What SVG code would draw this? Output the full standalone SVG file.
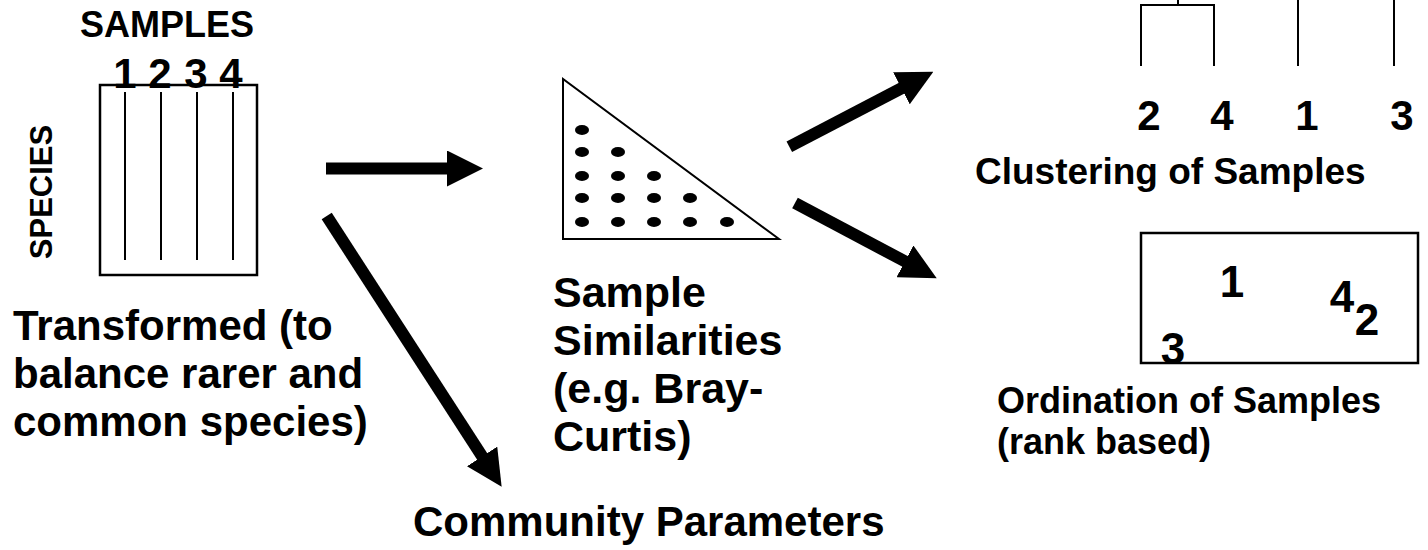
<svg xmlns="http://www.w3.org/2000/svg" width="1428" height="550" viewBox="0 0 1428 550">
<style>
text{font-family:"Liberation Sans",Arial,sans-serif;font-weight:bold;fill:#000}
.ln{stroke:#000;stroke-width:2;fill:none}
.bx{stroke:#000;stroke-width:2.5;fill:#fff}
.arr{stroke:#000;stroke-width:12;fill:none;marker-end:url(#ah)}
.mid{text-anchor:middle}
</style>
<defs>
<marker id="ah" markerUnits="userSpaceOnUse" markerWidth="36" markerHeight="36" viewBox="0 0 36 36" refX="2" refY="18" orient="auto">
<path d="M0,0 L36,18 L0,36 z" fill="#000"/>
</marker>
</defs>
<rect width="1428" height="550" fill="#fff"/>
<g id="matrix">
<text x="167" y="37" class="mid" font-size="36">SAMPLES</text>
<rect x="100" y="85" width="157" height="190" class="bx"/>
<line x1="125" y1="92" x2="125" y2="260" class="ln"/>
<line x1="161" y1="92" x2="161" y2="260" class="ln"/>
<line x1="197" y1="92" x2="197" y2="260" class="ln"/>
<line x1="233" y1="92" x2="233" y2="260" class="ln"/>
<text x="125" y="88" class="mid" font-size="42">1</text>
<text x="160" y="88" class="mid" font-size="42">2</text>
<text x="196" y="88" class="mid" font-size="42">3</text>
<text x="231" y="88" class="mid" font-size="42">4</text>
<text transform="translate(52,192) rotate(-90)" class="mid" font-size="31">SPECIES</text>
<text font-size="42"><tspan x="13" y="340">Transformed (to</tspan><tspan x="13" y="388">balance rarer and</tspan><tspan x="13" y="436">common species)</tspan></text>
</g>
<g id="similarity">
<polygon points="563,79 563,239 779,239" class="ln"/>
<g fill="#000">
<ellipse cx="582" cy="130" rx="7" ry="5"/>
<ellipse cx="582" cy="152" rx="7" ry="5"/><ellipse cx="618" cy="152" rx="7" ry="5"/>
<ellipse cx="582" cy="176" rx="7" ry="5"/><ellipse cx="618" cy="176" rx="7" ry="5"/><ellipse cx="654" cy="176" rx="7" ry="5"/>
<ellipse cx="582" cy="198" rx="7" ry="5"/><ellipse cx="618" cy="198" rx="7" ry="5"/><ellipse cx="654" cy="198" rx="7" ry="5"/><ellipse cx="690" cy="198" rx="7" ry="5"/>
<ellipse cx="582" cy="222" rx="7" ry="5"/><ellipse cx="618" cy="222" rx="7" ry="5"/><ellipse cx="654" cy="222" rx="7" ry="5"/><ellipse cx="690" cy="222" rx="7" ry="5"/><ellipse cx="727" cy="222" rx="7" ry="5"/>
</g>
<text font-size="43"><tspan x="553" y="307">Sample</tspan><tspan x="553" y="355">Similarities</tspan><tspan x="553" y="403">(e.g. Bray-</tspan><tspan x="553" y="451">Curtis)</tspan></text>
</g>
<g id="community">
<text x="413" y="536" font-size="42">Community Parameters</text>
</g>
<g id="clustering">
<path d="M1178,0 V5 M1141,66 V5 H1214 V66 M1298,0 V66 M1394,0 V66" class="ln"/>
<text x="1149" y="130" class="mid" font-size="42">2</text>
<text x="1222" y="130" class="mid" font-size="42">4</text>
<text x="1307" y="130" class="mid" font-size="42">1</text>
<text x="1402" y="130" class="mid" font-size="42">3</text>
<text x="975" y="184" font-size="37">Clustering of Samples</text>
</g>
<g id="ordination">
<rect x="1141" y="233" width="277" height="130" class="bx"/>
<text x="1232" y="297" class="mid" font-size="44">1</text>
<text x="1342" y="312" class="mid" font-size="44">4</text>
<text x="1367" y="335" class="mid" font-size="44">2</text>
<text x="1173" y="364" class="mid" font-size="44">3</text>
<text font-size="36"><tspan x="997" y="413">Ordination of Samples</tspan><tspan x="997" y="454">(rank based)</tspan></text>
</g>
<g id="connectors">
<line x1="326" y1="168.5" x2="449" y2="168.5" class="arr"/>
<line x1="326.7" y1="216" x2="483.2" y2="458.1" class="arr"/>
<line x1="789.3" y1="146.7" x2="903.2" y2="87.4" class="arr"/>
<line x1="795" y1="203" x2="906.7" y2="262.3" class="arr"/>
</g>
</svg>
